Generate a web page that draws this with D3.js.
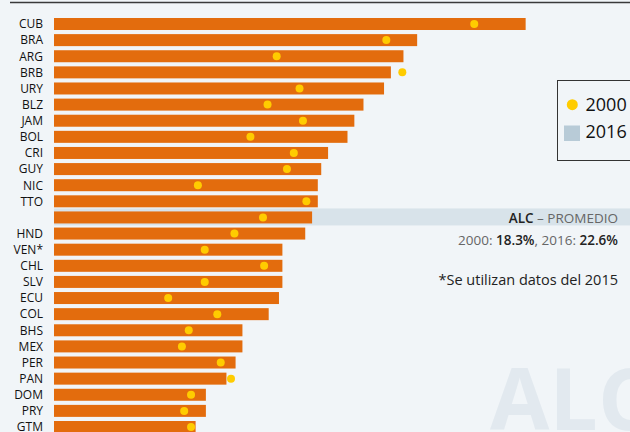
<!DOCTYPE html>
<html>
<head>
<meta charset="utf-8">
<script src="https://cdn.jsdelivr.net/npm/d3@7"></script>
<style>
  html, body { margin: 0; padding: 0; background: #f1f5f8; }
  svg { display: block; font-family: "Open Sans", sans-serif; }
</style>
</head>
<body>
<svg id="chart" width="630" height="432"></svg>
<script>
// country codes, top to bottom ('' is the regional average row)
const countries = ['CUB', 'BRA', 'ARG', 'BRB', 'URY', 'BLZ', 'JAM', 'BOL', 'CRI', 'GUY', 'NIC', 'TTO', '',
  'HND', 'VEN*', 'CHL', 'SLV', 'ECU', 'COL', 'BHS', 'MEX', 'PER', 'PAN', 'DOM', 'PRY', 'GTM'];
const values2016 = [41.3, 31.8, 30.6, 29.5, 28.9, 27.1, 26.3, 25.7, 24.0, 23.4, 23.1, 23.1, 22.6,
  22.0, 20.0, 20.0, 20.0, 19.7, 18.8, 16.5, 16.5, 15.9, 15.1, 13.3, 13.3, 12.4];
const values2000 = [36.8, 29.1, 19.5, 30.5, 21.5, 18.7, 21.8, 17.2, 21.0, 20.4, 12.6, 22.1, 18.3,
  15.8, 13.2, 18.4, 13.2, 10.0, 14.3, 11.8, 11.2, 14.6, 15.5, 12.0, 11.4, 12.0];
const avgIndex = 12;
const legendLabels = ['2000', '2016'];

const width = 630, height = 432;
const barColor = '#e36c0d', dotColor = '#ffcc00';

const svg = d3.select('#chart');

// watermark
svg.append('text')
  .attr('x', 490).attr('y', 430)
  .attr('font-size', 86).attr('font-weight', 'bold')
  .attr('fill', '#e2e9ef')
  .text('ALC');

// top rule
svg.append('line')
  .attr('x1', 10).attr('x2', width).attr('y1', 2.5).attr('y2', 2.5)
  .attr('stroke', '#3a3a3a').attr('stroke-width', 1.6);

const x = d3.scaleLinear().domain([0, 10]).range([54, 168.2]);
const step = 16.12, barH = 12;
const y = d3.scaleBand().domain(d3.range(countries.length))
  .range([18, 18 + step * (countries.length - 1) + barH])
  .paddingInner(1 - barH / step).paddingOuter(0);

const rows = countries.map((c, i) => ({ c, i, v16: values2016[i], v00: values2000[i] }));

// average band
svg.append('rect')
  .attr('x', x(0)).attr('width', width - x(0))
  .attr('y', y(avgIndex) - 3).attr('height', y.bandwidth() + 5)
  .attr('fill', '#d8e3ea');

svg.append('g').selectAll('rect')
  .data(rows).enter().append('rect')
  .attr('x', x(0))
  .attr('y', d => y(d.i))
  .attr('width', d => x(d.v16) - x(0))
  .attr('height', y.bandwidth())
  .attr('fill', barColor);

svg.append('g').selectAll('circle')
  .data(rows).enter().append('circle')
  .attr('cx', d => x(d.v00))
  .attr('cy', d => y(d.i) + y.bandwidth() / 2)
  .attr('r', 4)
  .attr('fill', dotColor);

// country labels
svg.append('g').selectAll('text')
  .data(rows).enter().append('text')
  .attr('x', 43)
  .attr('y', d => y(d.i) + y.bandwidth() / 2)
  .attr('dy', '0.36em')
  .attr('text-anchor', 'end')
  .attr('font-size', 12)
  .attr('fill', '#111')
  .text(d => d.c);

// average annotation
const avgT = svg.append('text')
  .attr('x', 618).attr('y', 223)
  .attr('text-anchor', 'end').attr('font-size', 13.5);
avgT.append('tspan').attr('font-weight', 600).attr('fill', '#222').text('ALC');
avgT.append('tspan').attr('fill', '#666').text(' – PROMEDIO');

const valT = svg.append('text')
  .attr('x', 618).attr('y', 245)
  .attr('text-anchor', 'end').attr('font-size', 13.5).attr('fill', '#666');
valT.append('tspan').text(legendLabels[0] + ': ');
valT.append('tspan').attr('font-weight', 600).attr('fill', '#222').text(values2000[avgIndex] + '%');
valT.append('tspan').text(', ' + legendLabels[1] + ': ');
valT.append('tspan').attr('font-weight', 600).attr('fill', '#222').text(values2016[avgIndex] + '%');

svg.append('text')
  .attr('x', 618).attr('y', 285)
  .attr('text-anchor', 'end').attr('font-size', 14.5).attr('fill', '#222')
  .text('*Se utilizan datos del 2015');

// legend
const lg = svg.append('g');
lg.append('rect')
  .attr('x', 557.5).attr('y', 80.5).attr('width', 80).attr('height', 80)
  .attr('fill', 'none').attr('stroke', '#333').attr('stroke-width', 1);
lg.append('circle').attr('cx', 572.3).attr('cy', 104.7).attr('r', 5.5).attr('fill', dotColor);
lg.append('rect').attr('x', 564).attr('y', 125.5).attr('width', 16).attr('height', 15.5).attr('fill', '#b8cbd7');
lg.selectAll('text.lg').data(legendLabels).enter().append('text')
  .attr('class', 'lg')
  .attr('x', 585.5)
  .attr('y', (d, i) => 111 + i * 26.5)
  .attr('font-size', 18).attr('fill', '#111')
  .text(d => d);
</script>
</body>
</html>
